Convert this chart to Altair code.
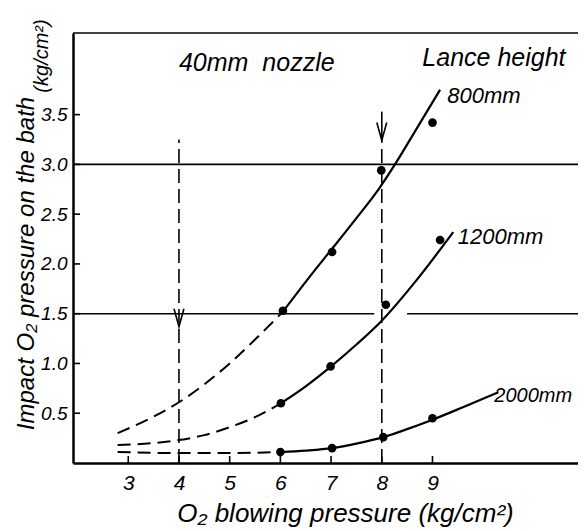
import altair as alt
import pandas as pd

FONT = "Liberation Sans"

x_ticks = [3, 4, 5, 6, 7, 8, 9]
y_ticks = [0.5, 1.0, 1.5, 2.0, 2.5, 3.0, 3.5]
x_domain = [1.91, 11.87]
y_domain = [0, 4.32]

# measured points
dot_series = ["800mm"] * 4 + ["1200mm"] * 4 + ["2000mm"] * 4
dot_x = [6.05, 7.02, 7.99, 9.0, 6.01, 6.99, 8.08, 9.15, 6.0, 7.02, 8.03, 9.0]
dot_y = [1.53, 2.12, 2.94, 3.42, 0.60, 0.97, 1.59, 2.24, 0.11, 0.15, 0.26, 0.45]

# curves
c800_dash_x = [2.79, 3.4, 4.0, 4.5, 5.0, 5.5, 6.05]
c800_dash_y = [0.30, 0.44, 0.61, 0.79, 1.00, 1.24, 1.52]
c800_solid_x = [6.05, 6.7, 7.0, 7.5, 7.95, 8.26, 8.7, 9.15]
c800_solid_y = [1.52, 1.95, 2.14, 2.46, 2.76, 3.00, 3.37, 3.75]

c1200_dash_x = [2.79, 4.0, 4.5, 5.0, 5.5, 6.01]
c1200_dash_y = [0.18, 0.23, 0.28, 0.36, 0.46, 0.60]
c1200_solid_x = [6.01, 6.5, 7.0, 7.5, 8.0, 8.69, 9.41]
c1200_solid_y = [0.60, 0.77, 0.97, 1.19, 1.43, 1.84, 2.32]

c2000_dash_x = [2.79, 4.0, 5.0, 6.0]
c2000_dash_y = [0.11, 0.10, 0.10, 0.11]
c2000_solid_x = [6.0, 6.5, 7.02, 7.5, 8.03, 8.5, 9.0, 9.6, 10.3]
c2000_solid_y = [0.11, 0.125, 0.15, 0.195, 0.26, 0.34, 0.435, 0.56, 0.71]

# reference lines
h_y = [3.0, 1.5, 1.5, 4.32]
h_x1 = [1.91, 1.91, 8.5, 1.91]
h_x2 = [11.87, 7.85, 11.87, 11.87]

v_dash_x = [4.0, 8.0]
v_dash_y1 = [0.0, 0.0]
v_dash_y2 = [3.25, 3.22]
shaft_x = [8.0]
shaft_y1 = [3.22]
shaft_y2 = [3.53]
arrow_x = [4.0, 8.0]
arrow_y = [1.46, 3.33]

labels_text = ["40mm\u00a0\u00a0nozzle", "Lance height", "800mm", "1200mm", "2000mm"]
labels_x = [4.0, 8.80, 9.29, 9.5, 10.22]
labels_y = [4.02, 4.07, 3.69, 2.27, 0.67]
labels_size = [25, 25, 22, 22, 20]


def seg(name, xs, ys):
    return pd.DataFrame({"x": xs, "y": ys, "seg": name, "i": range(len(xs))})


solid_df = pd.concat([
    seg("800", c800_solid_x, c800_solid_y),
    seg("1200", c1200_solid_x, c1200_solid_y),
    seg("2000", c2000_solid_x, c2000_solid_y),
])
dash_df = pd.concat([
    seg("800", c800_dash_x, c800_dash_y),
    seg("1200", c1200_dash_x, c1200_dash_y),
    seg("2000", c2000_dash_x, c2000_dash_y),
])
dots_df = pd.DataFrame({"x": dot_x, "y": dot_y, "s": dot_series})

xs = alt.Scale(domain=x_domain, nice=False, zero=False)
ys = alt.Scale(domain=y_domain, nice=False, zero=False)

X = alt.X("x:Q", scale=xs, axis=alt.Axis(
    values=x_ticks, format="d", ticks=False, tickSize=0, grid=False,
    labelPadding=9, labelFontSize=21,
    title="O\u2082 blowing pressure (kg/cm\u00b2)",
    titleX=272, titleY=50, titleBaseline="middle", titleAlign="center",
    titleFontSize=26))
Y = alt.Y("y:Q", scale=ys, axis=alt.Axis(
    values=y_ticks, format=".1f", ticks=False, tickSize=0, grid=False,
    labelPadding=6, labelFontSize=19,
    title="Impact O\u2082 pressure on the bath",
    titleX=-47, titleY=230, titleAngle=270, titleBaseline="middle",
    titleAlign="center", titleFontSize=24))

base_axes = alt.Chart(dots_df).mark_circle(size=0, opacity=0).encode(x=X, y=Y)

solid = alt.Chart(solid_df).mark_line(
    interpolate="monotone", color="black", strokeWidth=2.2
).encode(x=alt.X("x:Q", scale=xs), y=alt.Y("y:Q", scale=ys), detail="seg:N", order="i:Q")

dashed = alt.Chart(dash_df).mark_line(
    interpolate="monotone", color="black", strokeWidth=2.0, strokeDash=[13, 7]
).encode(x=alt.X("x:Q", scale=xs), y=alt.Y("y:Q", scale=ys), detail="seg:N", order="i:Q")

dots = alt.Chart(dots_df).mark_circle(size=75, color="black", opacity=1).encode(
    x=alt.X("x:Q", scale=xs), y=alt.Y("y:Q", scale=ys))

hlines = alt.Chart(pd.DataFrame({"y": h_y, "x1": h_x1, "x2": h_x2})).mark_rule(
    color="black", strokeWidth=1.6
).encode(x=alt.X("x1:Q", scale=xs), x2="x2:Q", y=alt.Y("y:Q", scale=ys))

vdash = alt.Chart(pd.DataFrame({"x": v_dash_x, "y1": v_dash_y1, "y2": v_dash_y2})).mark_rule(
    color="black", strokeWidth=1.6, strokeDash=[14, 6]
).encode(x=alt.X("x:Q", scale=xs), y=alt.Y("y1:Q", scale=ys), y2="y2:Q")

shaft = alt.Chart(pd.DataFrame({"x": shaft_x, "y1": shaft_y1, "y2": shaft_y2})).mark_rule(
    color="black", strokeWidth=1.6
).encode(x=alt.X("x:Q", scale=xs), y=alt.Y("y1:Q", scale=ys), y2="y2:Q")

arrows = alt.Chart(pd.DataFrame({"x": arrow_x, "y": arrow_y})).mark_point(
    shape="M-0.55,-1L0,1L0.55,-1", size=324, filled=False, color="black",
    strokeWidth=1.6, opacity=1
).encode(x=alt.X("x:Q", scale=xs), y=alt.Y("y:Q", scale=ys))

xtick_marks = alt.Chart(pd.DataFrame({"t": x_ticks})).mark_rule(
    color="black", strokeWidth=1.6
).encode(x=alt.X("t:Q", scale=xs), y=alt.value(430), y2=alt.value(423))

ytick_marks = alt.Chart(pd.DataFrame({"t": y_ticks})).mark_rule(
    color="black", strokeWidth=1.6
).encode(y=alt.Y("t:Q", scale=ys), x=alt.value(0), x2=alt.value(7))

labels = alt.Chart(pd.DataFrame({
    "text": labels_text, "x": labels_x, "y": labels_y, "size": labels_size
})).mark_text(
    align="left", baseline="middle", font=FONT, fontStyle="italic", color="black"
).encode(
    x=alt.X("x:Q", scale=xs), y=alt.Y("y:Q", scale=ys), text="text:N",
    size=alt.Size("size:Q", scale=None, legend=None))

unit_label = alt.Chart(pd.DataFrame({"t": ["(kg/cm\u00b2)"]})).mark_text(
    angle=270, align="center", baseline="middle", font=FONT, fontStyle="italic",
    fontSize=20, color="black"
).encode(x=alt.value(-31), y=alt.value(23), text="t:N")

chart = alt.layer(
    base_axes, hlines, vdash, shaft, arrows, dashed, solid, dots,
    xtick_marks, ytick_marks, labels, unit_label
).properties(
    width=505, height=430,
    padding={"left": 65, "top": 25, "right": 0, "bottom": 68},
    autosize=alt.AutoSizeParams(type="none"),
    background="white",
).configure_view(strokeWidth=0).configure_axis(
    domainColor="black", domainWidth=2.5, labelColor="black", titleColor="black",
    labelFont=FONT, titleFont=FONT, labelFontStyle="italic", titleFontStyle="italic",
    titleFontWeight="normal",
)

chart.save("out.html", embed_options={"renderer": "svg", "actions": False})
